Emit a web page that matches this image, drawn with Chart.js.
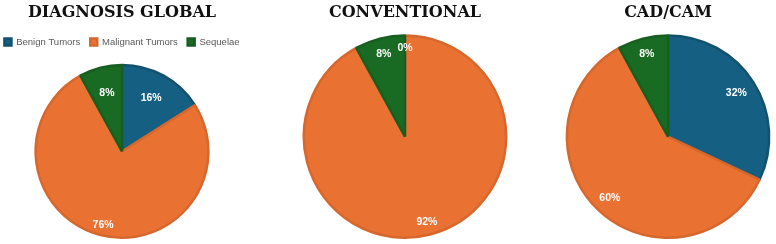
<!DOCTYPE html>
<html>
<head>
<meta charset="utf-8">
<script src="https://cdn.jsdelivr.net/npm/chart.js@4/dist/chart.umd.min.js"></script>
<style>
  body { margin: 0; background: #fff; }
  #wrap { position: relative; width: 776px; height: 244px; overflow: hidden; background: #fff; }
  canvas { position: absolute; top: 0; }
</style>
</head>
<body>
<div id="wrap">
  <canvas id="globalChart" width="290" height="244" style="left:-23px;width:290px;height:244px"></canvas>
  <canvas id="convChart" width="212" height="244" style="left:299px;width:212px;height:244px"></canvas>
  <canvas id="cadChart" width="212" height="244" style="left:562px;width:212px;height:244px"></canvas>
</div>
<script>
// data
const categories = ["Benign Tumors", "Malignant Tumors", "Sequelae"];
const globalValues = [16, 76, 8];
const conventionalValues = [0, 92, 8];
const cadcamValues = [32, 60, 8];
const chartTitles = ["DIAGNOSIS GLOBAL", "CONVENTIONAL", "CAD/CAM"];

const fills = ["#156082", "#e97132", "#196b24"];
const edges = ["#12526f", "#d6672d", "#175f21"];

// white % labels inside the slices
const pctLabels = {
  id: "pctLabels",
  afterDatasetsDraw(chart, args, opts) {
    const ctx = chart.ctx;
    const meta = chart.getDatasetMeta(0);
    const data = chart.data.datasets[0].data;
    ctx.save();
    ctx.font = "bold 10.5px 'Liberation Sans', Arial, sans-serif";
    ctx.fillStyle = "#ffffff";
    ctx.textAlign = "center";
    ctx.textBaseline = "middle";
    meta.data.forEach((arc, i) => {
      const { x, y, startAngle, endAngle, outerRadius } = arc.getProps(
        ["x", "y", "startAngle", "endAngle", "outerRadius"], true);
      const mid = (startAngle + endAngle) / 2;
      const r = outerRadius * (opts.radius ? opts.radius[i] : 0.8);
      ctx.fillText(data[i] + "%", x + Math.cos(mid) * r, y + Math.sin(mid) * r);
    });
    ctx.restore();
  },
};

// push the pie a bit further below the legend
const legendGap = {
  id: "legendGap",
  afterInit(chart, args, opts) {
    if (!chart.legend || !opts.extra) return;
    const fit = chart.legend.fit;
    chart.legend.fit = function () {
      fit.call(this);
      this.height += opts.extra;
    };
  },
};

function makePie(id, values, title, cfg) {
  return new Chart(document.getElementById(id).getContext("2d"), {
    type: "pie",
    data: {
      labels: categories,
      datasets: [
        {
          data: values,
          backgroundColor: fills,
          borderColor: edges,
          borderWidth: (c) => (values[c.dataIndex] === 0 ? 0 : 2.5),
        },
      ],
    },
    plugins: [pctLabels, legendGap],
    options: {
      responsive: false,
      animation: false,
      layout: { padding: { bottom: 5 } },
      plugins: {
        title: {
          display: true,
          text: title,
          color: "#111111",
          font: { family: "'DejaVu Serif', serif", size: 16, weight: "bold" },
          padding: cfg.titlePad,
        },
        legend: {
          display: cfg.legend,
          position: "top",
          labels: {
            boxWidth: 7,
            boxHeight: 7,
            padding: 10,
            color: "#595959",
            font: { family: "'Liberation Sans', Arial, sans-serif", size: 9.5 },
          },
        },
        legendGap: { extra: cfg.legendExtra || 0 },
        pctLabels: { radius: cfg.labelRadius },
        tooltip: { enabled: false },
      },
    },
  });
}

makePie("globalChart", globalValues, chartTitles[0], {
  legend: true,
  titlePad: { top: 3, bottom: 5 },
  legendExtra: 7,
  labelRadius: [0.7, 0.88, 0.7],
});
makePie("convChart", conventionalValues, chartTitles[1], {
  legend: false,
  titlePad: { top: 3, bottom: 12 },
  labelRadius: [0.87, 0.87, 0.84],
});
makePie("cadChart", cadcamValues, chartTitles[2], {
  legend: false,
  titlePad: { top: 3, bottom: 12 },
  labelRadius: [0.8, 0.84, 0.84],
});
</script>
</body>
</html>
